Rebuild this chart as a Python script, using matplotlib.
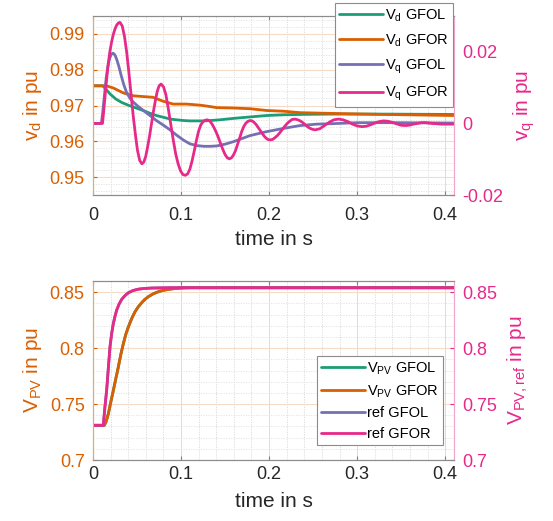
import matplotlib
matplotlib.use("Agg")
import matplotlib.pyplot as plt
from matplotlib.ticker import FixedLocator, MultipleLocator

plt.rcParams['font.family'] = ['Liberation Sans', 'DejaVu Sans']
plt.rcParams['mathtext.default'] = 'regular'

# ---------------- data: top panel ----------------
t_vd_gfol = [0, 0.011, 0.015, 0.019, 0.026, 0.033, 0.041, 0.049, 0.057, 0.064, 0.072, 0.080,
             0.088, 0.095, 0.103, 0.110, 0.118, 0.126, 0.133, 0.144, 0.1595, 0.178, 0.1973,
             0.2163, 0.2352, 0.2693, 0.33, 0.41]
vd_gfol = [0.9755, 0.9755, 0.9745, 0.9733, 0.9718, 0.9708, 0.9700, 0.9693, 0.9686, 0.9679,
           0.9672, 0.9667, 0.9662, 0.9660, 0.9658, 0.9657, 0.9657, 0.9657, 0.9658, 0.9660,
           0.9664, 0.9668, 0.9672, 0.9674, 0.9675, 0.9676, 0.9676, 0.9675]

t_vd_gfor = [0, 0.015, 0.023, 0.0345, 0.046, 0.057, 0.068, 0.0795, 0.091, 0.106, 0.1216,
             0.133, 0.1405, 0.1595, 0.1784, 0.1973, 0.2163, 0.2352, 0.2693, 0.33, 0.41]
vd_gfor = [0.9755, 0.9755, 0.9749, 0.9735, 0.9727, 0.9725, 0.9723, 0.9712, 0.9704, 0.9704, 0.9701,
           0.9697, 0.9694, 0.9693, 0.9691, 0.9686, 0.9684, 0.9680, 0.9678, 0.9675, 0.9672]

t_vq_gfol = [0, 0.0095, 0.0110, 0.0133, 0.0150, 0.0170, 0.0190, 0.0208, 0.0225, 0.0240, 0.0255,
             0.0273, 0.0295, 0.0322, 0.0350, 0.0379, 0.0415, 0.0455, 0.0510, 0.0568, 0.0620,
             0.0663, 0.072, 0.080, 0.088, 0.095, 0.103, 0.110, 0.118, 0.126, 0.133, 0.1405,
             0.150, 0.1595, 0.1784, 0.1973, 0.2163, 0.2352, 0.2542, 0.2693, 0.30, 0.35, 0.41]
vq_gfol = [0, 0, 0.0030, 0.0086, 0.0127, 0.0160, 0.0183, 0.0193, 0.0196, 0.0194, 0.0188,
           0.0176, 0.0158, 0.0132, 0.0108, 0.0088, 0.0072, 0.0060, 0.0048, 0.0037, 0.0027,
           0.0019, 0.0008, -0.0005, -0.0019, -0.0033, -0.0047, -0.0057, -0.0062, -0.0064, -0.0064,
           -0.0063, -0.0058, -0.0051, -0.0034, -0.0023, -0.0014, -0.0006, -0.0002, -0.0001,
           0.0002, 0.0002, 0.0001]

t_vq_gfor = [0, 0.0108, 0.0120, 0.0133, 0.0150, 0.0170, 0.0190, 0.0210, 0.0230, 0.0250, 0.0270,
             0.0290, 0.0307, 0.0332, 0.0357, 0.0382, 0.0406, 0.0431, 0.0456, 0.0481, 0.0505,
             0.0530, 0.0555, 0.0577, 0.0599, 0.0620, 0.0642, 0.0664, 0.0686, 0.0708, 0.0729,
             0.0751, 0.0773, 0.0801, 0.0828, 0.0856, 0.0884, 0.0912, 0.0939, 0.0967, 0.0995,
             0.1022, 0.1050, 0.1075, 0.1100, 0.1125, 0.1150, 0.1175, 0.1200, 0.1225, 0.1250,
             0.1275, 0.1300, 0.1325, 0.1350, 0.1375, 0.1400, 0.1425, 0.1450, 0.1475, 0.1500,
             0.1525, 0.1549, 0.1573, 0.1596, 0.1620, 0.1643, 0.1667, 0.1690, 0.1714, 0.1737,
             0.1761, 0.1784, 0.1807, 0.1829, 0.1852, 0.1875, 0.1897, 0.1920, 0.1942, 0.1965,
             0.1987, 0.2010, 0.2038, 0.2066, 0.2094, 0.2122, 0.2150, 0.2178, 0.2206, 0.2234,
             0.2262, 0.2290, 0.2313, 0.2337, 0.2360, 0.2383, 0.2407, 0.2430, 0.2453, 0.2476,
             0.2500, 0.2523, 0.2576, 0.2629, 0.2682, 0.2735, 0.2788, 0.2841, 0.2894, 0.2947,
             0.3000, 0.3053, 0.3102, 0.3151, 0.3200, 0.3250, 0.3299, 0.3348, 0.3397, 0.3447,
             0.3496, 0.3545, 0.3592, 0.3639, 0.3686, 0.3733, 0.3780, 0.3850, 0.3950, 0.4100]
vq_gfor = [0, 0, 0.0030, 0.0066, 0.0112, 0.0160, 0.0198, 0.0226, 0.0248, 0.0264, 0.0275,
           0.0281, 0.0282, 0.0272, 0.0244, 0.0200, 0.0146, 0.0085, 0.0023, -0.0030, -0.0075,
           -0.0103, -0.0113, -0.0108, -0.0092, -0.0066, -0.0036, -0.0002, 0.0033, 0.0063, 0.0089,
           0.0105, 0.0110, 0.0102, 0.0080, 0.0040, -0.0003, -0.0047, -0.0085, -0.0113, -0.0133,
           -0.0143, -0.0145, -0.0141, -0.0128, -0.0105, -0.0077, -0.0047, -0.0021, -0.0004, 0.0005,
           0.0009, 0.0010, 0.0007, -0.0001, -0.0012, -0.0025, -0.0040, -0.0057, -0.0073, -0.0087,
           -0.0096, -0.0099, -0.0096, -0.0088, -0.0075, -0.0058, -0.0040, -0.0022, -0.0008, 0.0001,
           0.0006, 0.0008, 0.0007, 0.0003, -0.0003, -0.0011, -0.0019, -0.0027, -0.0035, -0.0041,
           -0.0045, -0.0046, -0.0045, -0.0040, -0.0034, -0.0026, -0.0017, -0.0008, 0.0000, 0.0006,
           0.0011, 0.0012, 0.0011, 0.0009, 0.0006, 0.0002, -0.0003, -0.0008, -0.0012, -0.0015,
           -0.0017, -0.0018, -0.0015, -0.0006, 0.0003, 0.0010, 0.0012, 0.0010, 0.0005, -0.0002,
           -0.0007, -0.0009, -0.0008, -0.0004, 0.0001, 0.0005, 0.0007, 0.0006, 0.0003, -0.0001,
           -0.0005, -0.0006, -0.0005, -0.0002, 0.0000, 0.0002, 0.0002, 0.0000, -0.0002, -0.0002]

# ---------------- data: bottom panel ----------------
t_vpv = [0, 0.0129, 0.0150, 0.0174, 0.0200, 0.0231, 0.0260, 0.0288, 0.0315, 0.0345, 0.0372,
         0.0402, 0.0440, 0.0477, 0.0515, 0.0553, 0.0590, 0.0629, 0.0685, 0.0742, 0.0800,
         0.0856, 0.0932, 0.1020, 0.11, 0.41]
vpv_gfor = [0.731, 0.731, 0.7345, 0.7413, 0.7510, 0.7622, 0.7730, 0.7832, 0.7940, 0.8041,
            0.8122, 0.8190, 0.8265, 0.8325, 0.8370, 0.8406, 0.8436, 0.8460, 0.8486, 0.8504,
            0.8517, 0.8525, 0.8533, 0.8538, 0.8540, 0.8540]
vpv_gfol = vpv_gfor

t_ref = [0, 0.0117, 0.0135, 0.0155, 0.0175, 0.0193, 0.0212, 0.0231, 0.0250, 0.0269, 0.0297,
         0.0326, 0.0364, 0.0402, 0.0455, 0.0515, 0.0590, 0.0667, 0.08, 0.09, 0.41]
ref_gfor = [0.731, 0.731, 0.7470, 0.7622, 0.7830, 0.8011, 0.8130, 0.8220, 0.8285, 0.8340,
            0.8395, 0.8436, 0.8470, 0.8495, 0.8515, 0.8527, 0.8534, 0.8537, 0.8539, 0.8540, 0.8540]
ref_gfol = ref_gfor

# ---------------- ticks / labels ----------------
x_ticks = [0, 0.1, 0.2, 0.3, 0.4]
x_ticklabels = ['0', '0.1', '0.2', '0.3', '0.4']
top_left_ticks = [0.95, 0.96, 0.97, 0.98, 0.99]
top_left_labels = ['0.95', '0.96', '0.97', '0.98', '0.99']
top_right_ticks = [-0.02, 0, 0.02]
top_right_labels = ['-0.02', '0', '0.02']
bot_ticks = [0.7, 0.75, 0.8, 0.85]
bot_labels = ['0.7', '0.75', '0.8', '0.85']

top_legend = [r'V$_d$ GFOL', r'V$_d$ GFOR', r'V$_q$ GFOL', r'V$_q$ GFOR']
bot_legend = [r'V$_{PV}$ GFOL', r'V$_{PV}$ GFOR', 'ref GFOL', 'ref GFOR']

C_GREEN = '#1b9e77'
C_ORANGE = '#d95f02'
C_PURPLE = '#7570b3'
C_PINK = '#e7298a'
C_TXT = '#262626'
LW = 2.0

fig = plt.figure(figsize=(5.53, 5.21), dpi=100)
W, H = 553, 521


def make_axes(x0, y_top, x1, y_bot):
    return fig.add_axes([x0 / W, 1 - y_bot / H, (x1 - x0) / W, (y_bot - y_top) / H])


def style(ax, ax2, ylim, yminor, lticks, llabels, rticks, rlabels, rylim, xpad, xlabpad):
    ax.set_xlim(0, 0.41)
    ax.set_ylim(*ylim)
    ax2.set_ylim(*rylim)
    ax.xaxis.set_major_locator(FixedLocator(x_ticks))
    ax.set_xticklabels(x_ticklabels)
    ax.xaxis.set_minor_locator(MultipleLocator(0.02))
    ax.yaxis.set_major_locator(FixedLocator(lticks))
    ax.set_yticklabels(llabels)
    ax.yaxis.set_minor_locator(MultipleLocator(yminor))
    ax2.yaxis.set_major_locator(FixedLocator(rticks))
    ax2.set_yticklabels(rlabels)
    ax.set_axisbelow(True)
    ax.grid(which='major', axis='x', color='#dcdcdc', lw=0.7)
    ax.grid(which='minor', axis='x', color='#d8d8d8', lw=0.6, ls=(0, (1.5, 1.5)))
    ax.grid(which='major', axis='y', color='#f6dcc6', lw=0.8)
    ax.grid(which='minor', axis='y', color='#e2e2e2', lw=0.6, ls=(0, (1.5, 1.5)))
    ax.tick_params(axis='x', which='major', direction='in', top=True, colors='#808080',
                   labelcolor=C_TXT, labelsize=13, pad=xpad, length=3)
    ax.tick_params(axis='x', which='minor', length=0)
    ax.tick_params(axis='y', which='major', direction='in', colors=C_ORANGE, labelsize=13,
                   pad=6, length=3)
    ax.tick_params(axis='y', which='minor', length=0)
    ax2.tick_params(axis='y', which='major', direction='in', colors=C_PINK, labelsize=13,
                    pad=6, length=3)
    for a in (ax, ax2):
        a.spines['top'].set_color('#8c8c8c')
        a.spines['bottom'].set_color('#8c8c8c')
        a.spines['left'].set_color('#e2a77a')
        a.spines['right'].set_color('#f0a6c8')
        for s in a.spines.values():
            s.set_linewidth(0.8)
    ax.set_xlabel('time in s', fontsize=15, color=C_TXT, labelpad=xlabpad)


def draw_line(ax, t, v, color):
    line, = ax.plot(t, v, color=color, lw=LW, solid_joinstyle='round', solid_capstyle='round')
    return line


# ---------------- top panel ----------------
ax1 = make_axes(93, 16, 454, 195)
ax1r = ax1.twinx()
l1 = draw_line(ax1, t_vd_gfol, vd_gfol, C_GREEN)
l2 = draw_line(ax1, t_vd_gfor, vd_gfor, C_ORANGE)
l3 = draw_line(ax1r, t_vq_gfol, vq_gfol, C_PURPLE)
l4 = draw_line(ax1r, t_vq_gfor, vq_gfor, C_PINK)
style(ax1, ax1r, (0.945, 0.995), 0.002, top_left_ticks, top_left_labels,
      top_right_ticks, top_right_labels, (-0.02, 0.03), 9, 4)
ax1.set_ylabel(r'v$_d$ in pu', fontsize=15, color=C_ORANGE, labelpad=4)
ax1r.set_ylabel(r'v$_q$ in pu', fontsize=15, color=C_PINK, labelpad=6)

leg1 = fig.legend([l1, l2, l3, l4], top_legend, loc='upper right',
                  bbox_to_anchor=(453 / W, 1 - 3 / H), fontsize=10.5, frameon=True,
                  fancybox=False, framealpha=1, edgecolor='#8c8c8c', handlelength=3.0,
                  handletextpad=0.15, borderpad=0.3, labelspacing=0.6, borderaxespad=0)
leg1.get_frame().set_linewidth(0.8)

# ---------------- bottom panel ----------------
ax2 = make_axes(93, 281, 454, 460)
ax2r = ax2.twinx()
m1 = draw_line(ax2, t_vpv, vpv_gfol, C_GREEN)
m2 = draw_line(ax2, t_vpv, vpv_gfor, C_ORANGE)
m3 = draw_line(ax2r, t_ref, ref_gfol, C_PURPLE)
m4 = draw_line(ax2r, t_ref, ref_gfor, C_PINK)
style(ax2, ax2r, (0.7, 0.86), 0.01, bot_ticks, bot_labels, bot_ticks, bot_labels, (0.7, 0.86),
      4.5, 6)
ax2.set_ylabel(r'V$_{PV}$ in pu', fontsize=15, color=C_ORANGE, labelpad=4)
ax2r.set_ylabel(r'V$_{PV,ref}$ in pu', fontsize=15, color=C_PINK, labelpad=6)

leg2 = fig.legend([m1, m2, m3, m4], bot_legend, loc='lower right',
                  bbox_to_anchor=(443 / W, 1 - 445 / H), fontsize=10.5, frameon=True,
                  fancybox=False, framealpha=1, edgecolor='#8c8c8c', handlelength=3.0,
                  handletextpad=0.15, borderpad=0.3, labelspacing=0.45, borderaxespad=0)
leg2.get_frame().set_linewidth(0.8)

fig.savefig('out.png', dpi=100)
